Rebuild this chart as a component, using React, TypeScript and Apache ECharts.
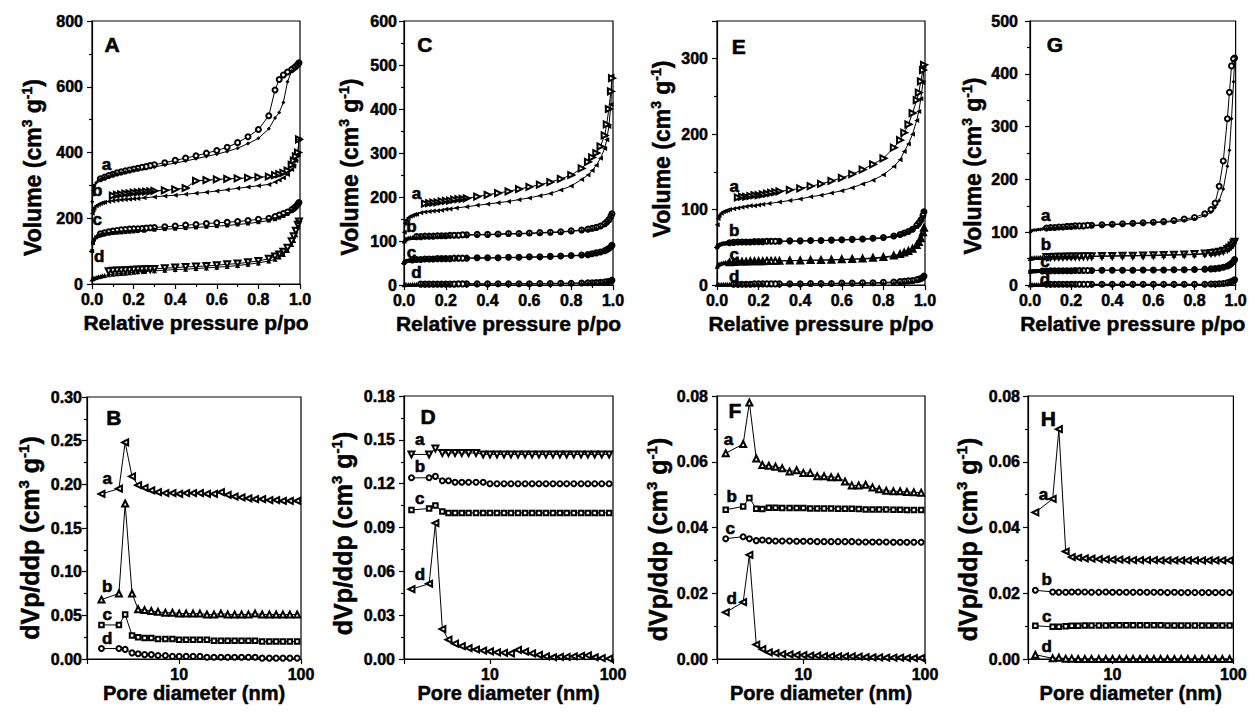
import React, { useEffect, useRef } from "react";
import * as echarts from "echarts";

const FONT = "'Liberation Sans', Arial, Helvetica, sans-serif";

// ---------- Isotherms: relative pressure grids ----------
const P_ADS = [0.001, 0.005, 0.01, 0.02, 0.03, 0.04, 0.05, 0.06, 0.08, 0.1, 0.12, 0.14, 0.16, 0.18, 0.2, 0.22, 0.25, 0.3, 0.35, 0.4, 0.45, 0.5, 0.55, 0.6, 0.65, 0.7, 0.75, 0.8, 0.85, 0.88, 0.9, 0.92, 0.94, 0.96, 0.97, 0.98, 0.99, 0.995];
const P_DES = [0.995, 0.99, 0.98, 0.97, 0.96, 0.94, 0.92, 0.9, 0.88, 0.85, 0.8, 0.75, 0.7, 0.65, 0.6, 0.55, 0.5, 0.45, 0.4, 0.35, 0.3, 0.28, 0.26, 0.24, 0.22, 0.2, 0.18, 0.16, 0.14, 0.12, 0.1, 0.08, 0.06, 0.04];

// Panel A
const A_A_ADS = [250, 285, 298, 308, 314, 318, 321, 324, 328, 332, 335, 338, 341, 343, 346, 348, 351, 356, 362, 368, 374, 381, 388, 395, 403, 413, 427, 443, 472, 505, 522, 552, 615, 648, 655, 662, 668, 673];
const A_A_DES = [673, 668, 662, 657, 652, 645, 636, 622, 590, 512, 470, 448, 430, 416, 406, 398, 390, 383, 376, 369, 363, 360, 357, 355, 352, 350, 347, 344, 341, 338, 334, 330, 325, 320];
const A_B_ADS = [215, 225, 232, 238, 242, 245, 247, 249, 251, 253, 255, 256, 257, 258, 259, 260, 262, 265, 268, 270, 273, 276, 279, 283, 287, 291, 295, 299, 303, 310, 316, 323, 333, 348, 358, 375, 395, 440];
const A_B_DES = [440, 400, 388, 375, 362, 345, 338, 334, 331, 327, 325, 323, 321, 320, 318, 316, 314, 292, 288, 285, 283, 282, 281, 280, 279, 278, 276, 275, 273, 271, 269, null, null, null];
const A_C_ADS = [100, 125, 135, 142, 146, 148, 150, 151, 153, 155, 156, 157, 158, 159, 160, 161, 162, 165, 167, 168, 170, 172, 174, 176, 178, 181, 184, 188, 193, 197, 202, 207, 213, 222, 228, 235, 243, 248];
const A_C_DES = [248, 243, 236, 230, 226, 219, 214, 210, 205, 200, 197, 193, 190, 188, 186, 184, 181, 179, 176, 174, 172, 171, 170, 169, 168, 168, 167, 166, 165, 163, 161, 159, 156, 153];
const A_D_ADS = [15, 17, 18, 20, 22, 23, 25, 26, 28, 30, 31, 32, 33, 34, 36, 37, 38, 40, 42, 44, 45, 47, 49, 51, 53, 56, 60, 64, 70, 75, 82, 90, 102, 120, 132, 150, 175, 190];
const A_D_DES = [190, 180, 162, 145, 130, 110, 98, 90, 84, 77, 70, 66, 62, 60, 57, 55, 53, 52, 50, 48, 46, 45, 45, 44, 44, 43, 42, 42, 41, 41, 40, 39, null, null];

// Panel C
const C_A_ADS = [120, 140, 148, 153, 156, 158, 160, 161, 164, 166, 167, 168, 169, 170, 172, 173, 175, 178, 181, 184, 187, 190, 194, 198, 203, 208, 216, 225, 240, 250, 260, 272, 288, 310, 330, 360, 410, 475];
const C_A_DES = [470, 440, 400, 365, 340, 315, 300, 290, 280, 265, 250, 241, 234, 228, 223, 218, 213, 209, 205, 201, 197, 196, 195, 194, 192, 191, 190, 188, 187, 186, 185, null, null, null];
const C_B_ADS = [100, 103, 105, 107, 108, 108, 109, 109, 110, 110, 111, 111, 111, 112, 112, 112, 113, 113, 114, 114, 115, 116, 116, 117, 118, 119, 120, 122, 124, 126, 128, 130, 133, 138, 142, 147, 155, 162];
const C_B_DES = [162, 156, 148, 143, 139, 134, 131, 129, 127, 125, 123, 121, 120, 119, 118, 117, 117, 116, 115, 115, 114, 114, 113, 113, 113, 112, 112, 112, 111, 111, 111, 110, 110, null];
const C_C_ADS = [50, 53, 54, 55, 56, 56, 57, 57, 58, 58, 58, 59, 59, 59, 60, 60, 60, 61, 61, 61, 62, 62, 62, 63, 63, 64, 65, 66, 67, 68, 70, 72, 74, 77, 80, 83, 86, 90];
const C_C_DES = [90, 87, 83, 80, 78, 75, 73, 71, 69, 68, 67, 66, 65, 64, 64, 63, 63, 62, 62, 62, 61, 61, 61, 61, 60, 60, 60, 60, 59, 59, 59, 58, 58, 57];
const C_D_ADS = [0.5, 1, 1, 1, 1, 1.5, 1.5, 1.5, 1.5, 2, 2, 2, 2, 2, 2, 2, 2, 2.5, 2.5, 2.5, 3, 3, 3, 3, 3, 3.5, 3.5, 4, 4, 4.5, 5, 5, 6, 7, 7.5, 8, 9, 11];
const C_D_DES = [11, 9, 8, 7.5, 7, 6, 5.5, 5, 5, 4.5, 4, 4, 3.5, 3.5, 3, 3, 3, 3, 2.5, 2.5, 2.5, 2.5, 2.5, 2, 2, 2, 2, 2, 2, 2, 2, 2, null, null];

// Panel E
const E_A_ADS = [80, 88, 92, 95, 97, 98, 99, 100, 101, 102, 103, 104, 105, 105, 106, 107, 108, 110, 112, 114, 117, 119, 122, 125, 129, 134, 139, 146, 157, 166, 177, 187, 200, 218, 230, 247, 268, 290];
const E_A_DES = [292, 285, 270, 255, 245, 228, 213, 202, 192, 182, 168, 160, 153, 147, 142, 138, 134, 131, 128, 126, 124, 123, 122, 121, 120, 119, 119, 118, 117, 117, 116, null, null, null];
const E_B_ADS = [50, 52, 53, 54, 55, 55, 55.5, 56, 56, 56.5, 56.5, 57, 57, 57, 57, 57.5, 57.5, 58, 58, 58, 58.5, 59, 59, 59.5, 60, 60.5, 61, 62, 64, 66, 68, 70, 73, 77, 80, 85, 90, 97];
const E_B_DES = [97, 92, 86, 82, 79, 74, 71, 69, 67, 65, 63, 62, 61, 60.5, 60, 59.5, 59, 59, 58.5, 58.5, 58, 58, 58, 58, 57.5, 57.5, 57.5, 57, 57, 57, 57, 56.5, 56, null];
const E_C_ADS = [25, 27, 28, 29, 29.5, 30, 30, 30.5, 30.5, 31, 31, 31, 31, 31.5, 31.5, 31.5, 31.5, 32, 32, 32.5, 32.5, 33, 33, 33.5, 34, 34.5, 35, 36, 38, 40, 42, 44, 47, 52, 56, 61, 68, 76];
const E_C_DES = [76, 70, 62, 57, 53, 48, 45, 43, 41, 39, 37, 36, 35, 34.5, 34, 33.5, 33, 33, 32.5, 32.5, 32, 32, 32, 32, 31.5, 31.5, 31.5, 31.5, 31, 31, 31, 30.5, 30, null];
const E_D_ADS = [0.5, 0.5, 0.5, 1, 1, 1, 1, 1, 1, 1, 1, 1, 1, 1, 1, 1, 1, 1, 1.5, 1.5, 1.5, 1.5, 2, 2, 2, 2, 2.5, 2.5, 3, 3.5, 4, 4.5, 5, 6, 7, 8, 10, 12];
const E_D_DES = [12, 10, 8.5, 7.5, 7, 6, 5.5, 5, 4.5, 4, 3.5, 3, 3, 2.5, 2.5, 2, 2, 2, 1.5, 1.5, 1.5, 1.5, 1.5, 1.5, 1.5, 1.5, 1.5, 1, 1, 1, 1, 1, null, null];

// Panel G
const G_A_ADS = [100, 102, 103, 104, 104, 105, 105, 106, 107, 108, 108, 109, 109, 110, 110, 111, 111, 112, 113, 114, 115, 116, 117, 118, 119, 120, 122, 125, 131, 138, 147, 160, 182, 225, 255, 315, 385, 425];
const G_A_DES = [430, 428, 415, 365, 315, 235, 187, 155, 143, 135, 128, 125, 122, 120, 119, 118, 117, 116, 115, 114, 113, 113, 112, 112, 112, 111, 111, 110, 110, 109, 109, 108, null, null];
const G_B_ADS = [50, 51, 51, 52, 52, 52, 52.5, 52.5, 53, 53, 53, 53, 53.5, 53.5, 53.5, 54, 54, 54, 54.5, 54.5, 55, 55, 55.5, 55.5, 56, 56.5, 57, 57.5, 58.5, 59.5, 60.5, 62, 64, 67, 70, 73, 78, 82];
const G_B_DES = [82, 79, 75, 71, 68, 65, 63, 61.5, 60.5, 59.5, 58.5, 58, 57.5, 57, 56.5, 56, 55.5, 55.5, 55, 55, 54.5, 54.5, 54.5, 54, 54, 54, 54, 53.5, 53.5, 53.5, 53, 53, null, null];
const G_C_ADS = [25, 25.5, 26, 26, 26, 26.5, 26.5, 26.5, 27, 27, 27, 27, 27, 27, 27, 27.5, 27.5, 27.5, 27.5, 28, 28, 28, 28, 28, 28.5, 28.5, 28.5, 29, 29.5, 30, 30.5, 31.5, 33, 36, 38, 41, 45, 48];
const G_C_DES = [48, 45, 41, 38, 36, 33.5, 32, 31, 30.5, 30, 29.5, 29, 29, 28.5, 28.5, 28.5, 28, 28, 28, 28, 27.5, 27.5, 27.5, 27.5, 27.5, 27, 27, 27, 27, 27, 27, 26.5, 26.5, null];
const G_D_ADS = [0.5, 0.5, 1, 1, 1, 1, 1, 1, 1, 1, 1, 1, 1, 1, 1, 1, 1, 1, 1, 1, 1, 1, 1, 1, 1, 1, 1, 1, 1, 1.5, 1.5, 2, 2.5, 3.5, 4.5, 6, 8, 10];
const G_D_DES = [10, 8.5, 6.5, 5, 4, 3, 2.5, 2, 2, 1.5, 1.5, 1.5, 1.5, 1.5, 1.5, 1.5, 1.5, 1.5, 1.5, 1.5, 1.5, 1.5, 1.5, 1.5, 1.5, 1.5, 1.5, 1.5, 1.5, 1.5, 1.5, 1.5, null, null];

// ---------- Pore size distributions ----------
const PORE_D = [2.3, 3.2, 3.6, 4.1, 4.6, 5.2, 5.9, 6.7, 7.7, 8.8, 10, 11.4, 13, 14.8, 16.9, 19.3, 22, 25, 28.5, 32.5, 37, 42, 48, 55, 62.5, 71, 81, 93];

const B_A = [0.189, 0.195, 0.248, 0.209, 0.199, 0.196, 0.193, 0.191, 0.19, 0.19, 0.189, 0.19, 0.19, 0.19, 0.189, 0.189, 0.191, 0.188, 0.186, 0.185, 0.184, 0.183, 0.183, 0.182, 0.182, 0.181, 0.181, 0.181];
const B_B = [0.068, 0.075, 0.178, 0.075, 0.057, 0.056, 0.055, 0.054, 0.053, 0.053, 0.052, 0.052, 0.052, 0.052, 0.051, 0.051, 0.052, 0.051, 0.051, 0.051, 0.051, 0.052, 0.051, 0.051, 0.051, 0.051, 0.051, 0.051];
const B_C = [0.039, 0.039, 0.051, 0.027, 0.025, 0.024, 0.024, 0.023, 0.023, 0.023, 0.022, 0.022, 0.022, 0.022, 0.022, 0.021, 0.021, 0.021, 0.021, 0.021, 0.021, 0.021, 0.02, 0.02, 0.02, 0.02, 0.02, 0.02];
const B_D = [0.012, 0.012, 0.011, 0.007, 0.006, 0.005, 0.005, 0.004, 0.004, 0.003, 0.003, 0.003, 0.003, 0.003, 0.002, 0.002, 0.002, 0.002, 0.002, 0.002, 0.002, 0.002, 0.001, 0.001, 0.001, 0.001, 0.001, 0.001];

const D_A = [0.14, 0.14, 0.144, 0.141, 0.141, 0.141, 0.141, 0.141, 0.141, 0.14, 0.14, 0.14, 0.14, 0.14, 0.14, 0.14, 0.14, 0.14, 0.14, 0.14, 0.14, 0.14, 0.14, 0.14, 0.14, 0.14, 0.14, 0.14];
const D_B = [0.124, 0.124, 0.125, 0.122, 0.122, 0.121, 0.121, 0.121, 0.121, 0.121, 0.12, 0.12, 0.12, 0.12, 0.12, 0.12, 0.12, 0.12, 0.12, 0.12, 0.12, 0.12, 0.12, 0.12, 0.12, 0.12, 0.12, 0.12];
const D_C = [0.102, 0.103, 0.105, 0.101, 0.1, 0.1, 0.1, 0.1, 0.1, 0.1, 0.1, 0.1, 0.1, 0.1, 0.1, 0.1, 0.1, 0.1, 0.1, 0.1, 0.1, 0.1, 0.1, 0.1, 0.1, 0.1, 0.1, 0.1];
const D_D = [0.0478, 0.0515, 0.093, 0.0205, 0.0132, 0.0105, 0.0088, 0.0075, 0.0065, 0.0058, 0.0052, 0.0046, 0.0042, 0.0038, 0.0062, 0.005, 0.0038, 0.0028, 0.0018, 0.0012, 0.0014, 0.0015, 0.0018, 0.0022, 0.0025, 0.0012, 0.0006, 0.0003];

const F_A = [0.0626, 0.0654, 0.078, 0.061, 0.059, 0.0588, 0.0585, 0.058, 0.057, 0.0574, 0.0566, 0.0566, 0.0556, 0.0556, 0.0553, 0.0553, 0.054, 0.0528, 0.0528, 0.053, 0.0522, 0.0516, 0.0512, 0.051, 0.051, 0.0508, 0.0507, 0.0506];
const F_B = [0.0454, 0.0464, 0.049, 0.0457, 0.0456, 0.046, 0.046, 0.0459, 0.0459, 0.0459, 0.0459, 0.0458, 0.0458, 0.0458, 0.0458, 0.0457, 0.0457, 0.0457, 0.0456, 0.0455, 0.0455, 0.0455, 0.0455, 0.0454, 0.0454, 0.0453, 0.0453, 0.0453];
const F_C = [0.0366, 0.0372, 0.0366, 0.036, 0.0362, 0.036, 0.0359, 0.0359, 0.0359, 0.0358, 0.0358, 0.0358, 0.0357, 0.0357, 0.0357, 0.0357, 0.0357, 0.0357, 0.0356, 0.0356, 0.0356, 0.0356, 0.0356, 0.0355, 0.0355, 0.0355, 0.0355, 0.0355];
const F_D = [0.0142, 0.0173, 0.0317, 0.0044, 0.003, 0.002, 0.0018, 0.0015, 0.0014, 0.0012, 0.0012, 0.001, 0.001, 0.0009, 0.0009, 0.0008, 0.0008, 0.0008, 0.0007, 0.0006, 0.0005, 0.0005, 0.0004, 0.0004, 0.0004, 0.0003, 0.0003, 0.0003];

const H_A = [0.0446, 0.0487, 0.0699, 0.0327, 0.031, 0.0308, 0.0306, 0.0305, 0.0304, 0.0303, 0.0302, 0.0302, 0.0301, 0.0301, 0.0301, 0.0301, 0.0301, 0.03, 0.03, 0.03, 0.03, 0.03, 0.03, 0.03, 0.03, 0.03, 0.03, 0.03];
const H_B = [0.0209, 0.0204, 0.0203, 0.0203, 0.0204, 0.0204, 0.0204, 0.0203, 0.0203, 0.0204, 0.0203, 0.0203, 0.0203, 0.0203, 0.0203, 0.0203, 0.0203, 0.0203, 0.0202, 0.0203, 0.0202, 0.0202, 0.0202, 0.0202, 0.0202, 0.0202, 0.0202, 0.0202];
const H_C = [0.0101, 0.0098, 0.0098, 0.01, 0.0101, 0.0101, 0.0102, 0.0102, 0.0102, 0.0102, 0.0103, 0.0103, 0.0103, 0.0103, 0.0103, 0.0103, 0.0103, 0.0103, 0.0102, 0.0102, 0.0102, 0.0102, 0.0102, 0.0102, 0.0102, 0.0102, 0.0102, 0.0102];
const H_D = [0.0013, 0.0002, 0.0004, 0.0001, 0.0001, 0, 0, 0, 0, 0, 0, 0, 0, 0, 0, 0, 0, 0, 0, 0, 0, 0, 0, 0, 0, 0, 0, 0];

// ---------- Curve labels and panel letters (data coordinates) ----------
const LBL_A = [[0.07, 365, "a"], [0.025, 283, "b"], [0.025, 195, "c"], [0.035, 84, "d"]];
const LBL_C = [[0.06, 207, "a"], [0.036, 133, "b"], [0.036, 74, "c"], [0.06, 28, "d"]];
const LBL_E = [[0.083, 131, "a"], [0.083, 72, "b"], [0.083, 41, "c"], [0.083, 11, "d"]];
const LBL_G = [[0.077, 131, "a"], [0.077, 77, "b"], [0.073, 45, "c"], [0.073, 10, "d"]];
const LBL_B = [[2.56, 0.207, "a"], [2.56, 0.083, "b"], [2.56, 0.051, "c"], [2.56, 0.024, "d"]];
const LBL_D = [[2.69, 0.15, "a"], [2.69, 0.132, "b"], [2.69, 0.11, "c"], [2.69, 0.058, "d"]];
const LBL_F = [[2.42, 0.0668, "a"], [2.57, 0.0494, "b"], [2.5, 0.0398, "c"], [2.57, 0.0185, "d"]];
const LBL_H = [[2.69, 0.0499, "a"], [2.86, 0.0241, "b"], [2.86, 0.013, "c"], [2.86, 0.0038, "d"]];
const LETTERS = [["A", 0.097, 730], ["C", 0.1, 546], ["E", 0.105, 316], ["G", 0.121, 456], ["B", 2.9, 0.277], ["D", 3.14, 0.166], ["F", 2.74, 0.0757], ["H", 2.95, 0.0732]];

// Axis ranges
const Y_MAX = [800, 600, 350, 500, 0.3, 0.18, 0.08, 0.08];
const Y_INTERVAL = [200, 100, 100, 100, 0.05, 0.03, 0.02, 0.02];
const X_LOG_MIN = [1.75, 2, 1.95, 2];

// ---------- Layout / style ----------
const GRID_BOX = [
  { left: 92, top: 21, width: 208, height: 263 },
  { left: 404, top: 21, width: 209, height: 264 },
  { left: 717, top: 21, width: 208, height: 264 },
  { left: 1030, top: 21, width: 207, height: 264 },
  { left: 87, top: 397, width: 214, height: 262 },
  { left: 404, top: 396, width: 209, height: 263 },
  { left: 717, top: 396, width: 208, height: 263 },
  { left: 1028, top: 396, width: 208, height: 263 },
];
const Y_LABEL_MARGIN = [9, 7, 9, 12, 5, 9, 9, 8];
const Y_NAME_GAP = [46, 41, 42, 44, 43, 47, 45, 46];
const Y_NAME_SHIFT = [15, 14, -4, 13, 10, 6, 12, 12];
const X_NAME_GAP = [28, 28, 28, 28, 22, 20, 20, 20];

const UP = 0, LEFT = 90, RIGHT = -90, DOWN = 180;
// [adsSymbol, adsRotate, desSymbol, desRotate] per curve a..d
const TOP_MARKERS: [string, number, string, number][][] = [
  [["diamond", UP, "emptyCircle", UP], ["triangle", LEFT, "emptyTriangle", RIGHT], ["rect", UP, "emptyCircle", UP], ["triangle", UP, "emptyTriangle", DOWN]],
  [["triangle", LEFT, "emptyTriangle", RIGHT], ["triangle", UP, "emptyCircle", UP], ["rect", UP, "emptyCircle", UP], ["triangle", UP, "emptyCircle", UP]],
  [["triangle", LEFT, "emptyTriangle", RIGHT], ["rect", UP, "emptyCircle", UP], ["triangle", UP, "emptyTriangle", UP], ["triangle", UP, "emptyCircle", UP]],
  [["diamond", UP, "emptyCircle", UP], ["triangle", UP, "emptyTriangle", DOWN], ["rect", UP, "emptyCircle", UP], ["triangle", UP, "emptyCircle", UP]],
];
const BOTTOM_MARKERS: [string, number][][] = [
  [["emptyTriangle", LEFT], ["emptyTriangle", UP], ["emptyRect", UP], ["emptyCircle", UP]],
  [["emptyTriangle", DOWN], ["emptyCircle", UP], ["emptyRect", UP], ["emptyTriangle", LEFT]],
  [["emptyTriangle", UP], ["emptyRect", UP], ["emptyCircle", UP], ["emptyTriangle", LEFT]],
  [["emptyTriangle", LEFT], ["emptyCircle", UP], ["emptyRect", UP], ["emptyTriangle", UP]],
];

const TOP_DATA = [
  [[A_A_ADS, A_A_DES], [A_B_ADS, A_B_DES], [A_C_ADS, A_C_DES], [A_D_ADS, A_D_DES]],
  [[C_A_ADS, C_A_DES], [C_B_ADS, C_B_DES], [C_C_ADS, C_C_DES], [C_D_ADS, C_D_DES]],
  [[E_A_ADS, E_A_DES], [E_B_ADS, E_B_DES], [E_C_ADS, E_C_DES], [E_D_ADS, E_D_DES]],
  [[G_A_ADS, G_A_DES], [G_B_ADS, G_B_DES], [G_C_ADS, G_C_DES], [G_D_ADS, G_D_DES]],
];
const BOTTOM_DATA = [
  [B_A, B_B, B_C, B_D],
  [D_A, D_B, D_C, D_D],
  [F_A, F_B, F_C, F_D],
  [H_A, H_B, H_C, H_D],
];
const LABELS = [LBL_A, LBL_C, LBL_E, LBL_G, LBL_B, LBL_D, LBL_F, LBL_H];

function pairs(xs: number[], ys: (number | null)[]) {
  const out: number[][] = [];
  xs.forEach((x, i) => {
    const y = ys[i];
    if (y !== null && y !== undefined) out.push([x, y]);
  });
  return out;
}

function symSize(sym: string) {
  if (sym.indexOf("riangle") >= 0) return 6;
  if (sym.indexOf("ect") >= 0) return 4.5;
  return 5;
}

const LINE = { color: "#000", width: 1.2 };
const HEAVY = { textBorderColor: "#000", textBorderWidth: 0.5 };

function buildOption() {
  const grid = GRID_BOX.map((b) => ({
    ...b,
    show: true,
    borderColor: "#000",
    borderWidth: 1.2,
    backgroundColor: "transparent",
  }));

  const tickLabel = { color: "#000", fontSize: 16, fontWeight: "bold", fontFamily: FONT, ...HEAVY };

  const xAxis: any[] = [];
  const yAxis: any[] = [];
  for (let i = 0; i < 8; i++) {
    const top = i < 4;
    const common = {
      gridIndex: i,
      axisLine: { show: true, onZero: false, lineStyle: LINE },
      axisTick: { show: true, inside: false, length: 5, lineStyle: LINE },
      splitLine: { show: false },
      nameLocation: "middle",
      nameGap: X_NAME_GAP[i],
      nameTextStyle: { color: "#000", fontSize: top ? 21 : 20, fontWeight: "bold", fontFamily: FONT, ...HEAVY },
    };
    if (top) {
      xAxis.push({
        ...common,
        type: "value",
        min: 0,
        max: 1,
        interval: 0.2,
        minorTick: { show: true, splitNumber: 2, length: 3, lineStyle: LINE },
        minorSplitLine: { show: false },
        axisLabel: { ...tickLabel, margin: 7, formatter: (v: number) => v.toFixed(1) },
        name: "Relative pressure p/po",
      });
    } else {
      xAxis.push({
        ...common,
        type: "log",
        logBase: 10,
        min: X_LOG_MIN[i - 4],
        max: 100,
        axisLabel: {
          ...tickLabel,
          margin: 7,
          showMinLabel: true,
          formatter: (v: number) => {
            const l = Math.log10(v);
            return Math.abs(l - Math.round(l)) < 1e-6 && v >= 9.99 ? String(Math.round(v)) : "";
          },
        },
        name: "Pore diameter (nm)",
      });
    }
    const yInt = Y_INTERVAL[i];
    const titleSize = top ? 23 : 25;
    const supSize = top ? 14 : 15;
    yAxis.push({
      gridIndex: i,
      type: "value",
      min: 0,
      max: Y_MAX[i],
      interval: yInt,
      axisLine: { show: true, lineStyle: LINE },
      axisTick: { show: true, inside: false, length: 5, lineStyle: LINE },
      minorTick: { show: true, splitNumber: 2, length: 3, lineStyle: LINE },
      splitLine: { show: false },
      minorSplitLine: { show: false },
      axisLabel: {
        ...tickLabel,
        margin: Y_LABEL_MARGIN[i],
        formatter: (v: number) => {
          const k = Math.round(v / yInt);
          if (Math.abs(v - k * yInt) > yInt * 1e-6) return "";
          return top ? String(Math.round(v)) : v.toFixed(2);
        },
      },
      name: top ? "Volume (cm{s|3} g{s|-1})" : "dVp/ddp (cm{s|3} g{s|-1})",
      nameLocation: "middle",
      nameGap: Y_NAME_GAP[i],
      nameTextStyle: {
        color: "#000",
        fontSize: titleSize,
        fontWeight: "bold",
        fontFamily: FONT,
        ...HEAVY,
        lineHeight: top ? 26 : 28,
        padding: Y_NAME_SHIFT[i] >= 0 ? [0, 2 * Y_NAME_SHIFT[i], 0, 0] : [0, 0, 0, -2 * Y_NAME_SHIFT[i]],
        rich: {
          s: {
            fontSize: supSize,
            fontWeight: "bold",
            fontFamily: FONT,
            color: "#000",
            ...HEAVY,
            verticalAlign: "top",
            lineHeight: top ? 20 : 21,
          },
        },
      },
    });
  }

  const series: any[] = [];
  TOP_DATA.forEach((panel, gi) => {
    panel.forEach((curve, ci) => {
      const [as, ar, ds, dr] = TOP_MARKERS[gi][ci];
      series.push({
        type: "line",
        xAxisIndex: gi,
        yAxisIndex: gi,
        data: pairs(P_DES, curve[1]),
        symbol: ds,
        symbolRotate: dr,
        symbolSize: symSize(ds),
        lineStyle: { color: "#000", width: 1 },
        itemStyle: { color: "#000", borderWidth: 0.7 },
        silent: true,
      });
      series.push({
        type: "line",
        xAxisIndex: gi,
        yAxisIndex: gi,
        data: pairs(P_ADS, curve[0]),
        symbol: as,
        symbolRotate: ar,
        symbolSize: as === "triangle" ? 5 : 4,
        lineStyle: { color: "#000", width: 1 },
        itemStyle: { color: "#000" },
        silent: true,
      });
    });
  });
  BOTTOM_DATA.forEach((panel, pi) => {
    const gi = pi + 4;
    panel.forEach((ys, ci) => {
      const [sym, rot] = BOTTOM_MARKERS[pi][ci];
      series.push({
        type: "line",
        xAxisIndex: gi,
        yAxisIndex: gi,
        data: pairs(PORE_D, ys),
        symbol: sym,
        symbolRotate: rot,
        symbolSize: symSize(sym),
        lineStyle: { color: "#000", width: 1 },
        itemStyle: { color: "#000", borderWidth: 0.7 },
        silent: true,
      });
    });
  });

  return {
    animation: false,
    backgroundColor: "#fff",
    textStyle: { fontFamily: FONT },
    grid,
    xAxis,
    yAxis,
    series,
  };
}

// Curve labels / panel letters: positioned through the axes' scales (convertToPixel)
function buildTextGraphics(chart: echarts.ECharts) {
  const out: any[] = [];
  const add = (gi: number, x: number, y: number, text: string, size: number) => {
    const p = chart.convertToPixel({ xAxisIndex: gi, yAxisIndex: gi } as any, [x, y]) as number[];
    if (!p) return;
    out.push({
      type: "text",
      x: p[0],
      y: p[1],
      z: 100,
      silent: true,
      style: {
        text,
        fill: "#000",
        stroke: "#000",
        lineWidth: 0.6,
        fontSize: size,
        fontWeight: "bold",
        fontFamily: FONT,
        align: "center",
        verticalAlign: "middle",
      },
    });
  };
  LABELS.forEach((lbls, gi) => {
    lbls.forEach((l) => add(gi, l[0] as number, l[1] as number, l[2] as string, 17));
    const lt = LETTERS[gi];
    add(gi, lt[1] as number, lt[2] as number, lt[0] as string, 21);
  });
  return out;
}

export default function App() {
  const ref = useRef<HTMLDivElement>(null);
  useEffect(() => {
    if (!ref.current) return;
    const chart = echarts.init(ref.current, null, { renderer: "svg" });
    chart.setOption(buildOption() as any);
    chart.setOption({ graphic: buildTextGraphics(chart) } as any);
    return () => chart.dispose();
  }, []);
  return (
    <div
      ref={ref}
      style={{ position: "absolute", left: 0, top: 0, width: 1250, height: 715, background: "#fff" }}
    />
  );
}
